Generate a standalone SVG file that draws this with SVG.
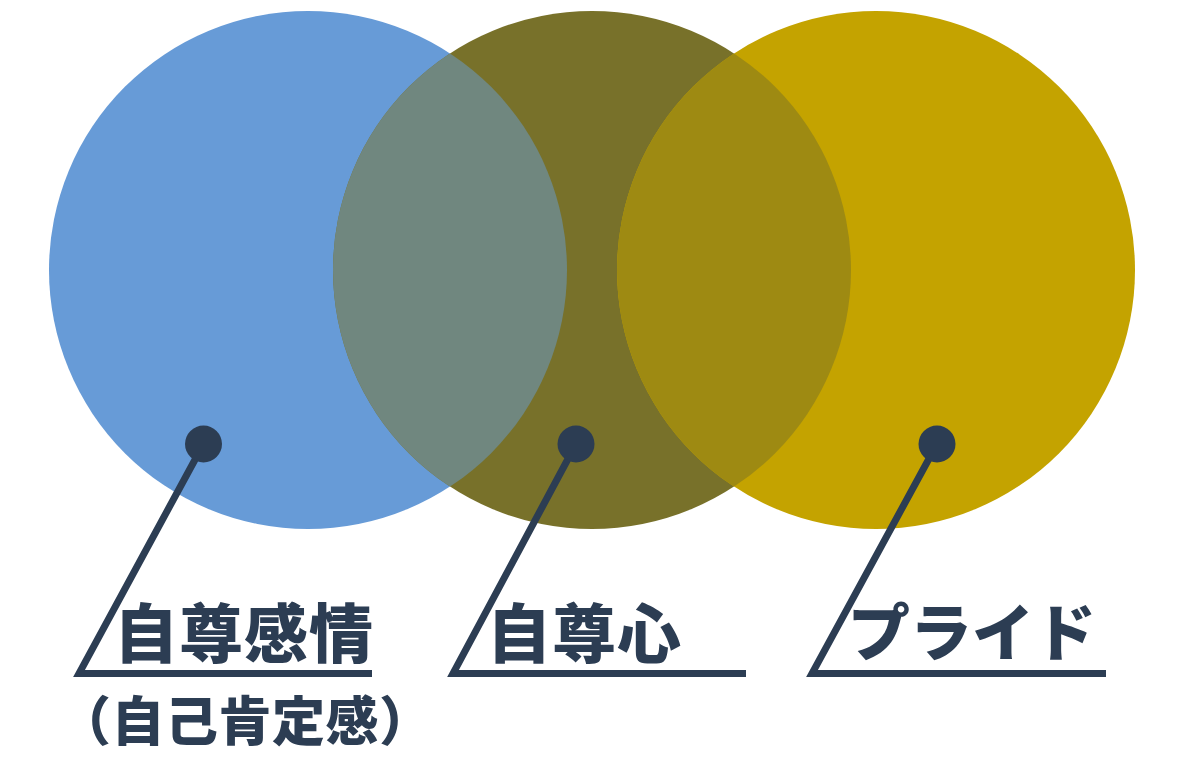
<svg xmlns="http://www.w3.org/2000/svg" width="1200" height="760" viewBox="0 0 1200 760">
<style>
.lbl{font-family:"Noto Sans CJK JP","Noto Sans CJK SC",sans-serif;font-weight:900;fill:#2C3D53}
.lead{fill:none;stroke:#2C3D53;stroke-width:7;stroke-linejoin:miter}
.dot{fill:#2C3D53}
</style>
<defs>
<clipPath id="cm"><circle cx="592" cy="270" r="259"/></clipPath>
</defs>
<rect width="1200" height="760" fill="#FFFFFF"/>
<g id="circle-left"><circle cx="308" cy="270" r="259" fill="#679BD7"/></g>
<g id="circle-mid"><circle cx="592" cy="270" r="259" fill="#78712A"/></g>
<g id="circle-right"><circle cx="876" cy="270" r="259" fill="#C4A300"/></g>
<g id="overlaps" clip-path="url(#cm)">
<circle cx="308" cy="270" r="259" fill="#70877F"/>
<circle cx="876" cy="270" r="259" fill="#9E8A12"/>
</g>
<g id="connectors">
<polyline class="lead" points="203.5,444 79,673.5 372,673.5"/>
<polyline class="lead" points="576,444 453,673.5 746,673.5"/>
<polyline class="lead" points="937,444 812,673.5 1106,673.5"/>
<circle class="dot" cx="203.5" cy="444" r="18.5"/>
<circle class="dot" cx="576" cy="444" r="18.5"/>
<circle class="dot" cx="937" cy="444" r="18.5"/>
</g>
<g id="label-left">
<text class="lbl" x="114" y="657" font-size="64" letter-spacing="1">自尊感情</text>
<text class="lbl" x="58" y="741" font-size="53" letter-spacing="0.5">（自己肯定感）</text>
</g>
<g id="label-mid"><text class="lbl" x="487" y="657" font-size="64" letter-spacing="1">自尊心</text></g>
<g id="label-right"><text class="lbl" x="848" y="656" font-size="62">プライド</text></g>
</svg>
